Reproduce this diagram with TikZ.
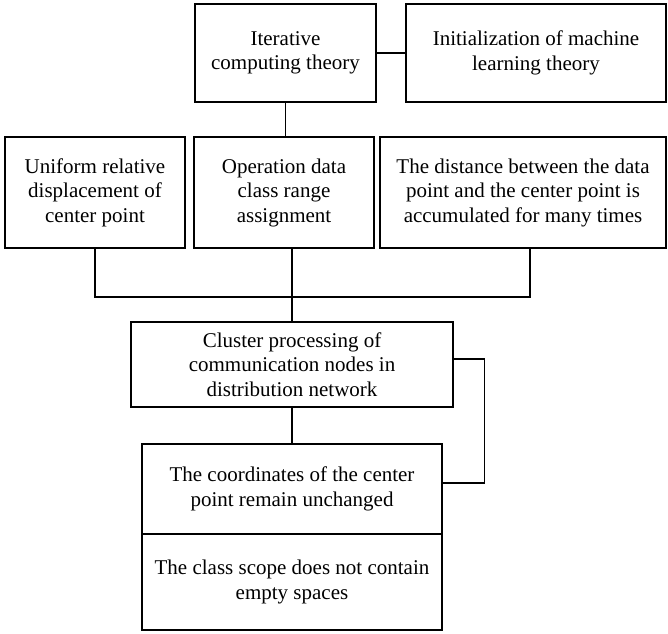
\documentclass[tikz,border=0pt]{standalone}
\usepackage{fontspec}
\setmainfont{Liberation Serif}
\usetikzlibrary{calc}
\tikzset{
  box/.style={draw, line width=1.4pt, rectangle, align=center, inner sep=2pt,
    font=\fontsize{21}{24.5}\selectfont},
  link/.style={line width=1.4pt}
}
\begin{document}
\begin{tikzpicture}[x=1pt,y=-1pt]
\useasboundingbox (0,0) rectangle (668,633);

% top row
\node[box, minimum width=181pt, minimum height=98pt] (iter) at (285.5,53)
  {Iterative\\computing theory};
\node[box, minimum width=260pt, minimum height=98pt] (init) at (536,53)
  {Initialization of machine\\learning theory};

% second row
\node[box, minimum width=180pt, minimum height=111pt] (disp) at (95,192.5)
  {Uniform relative\\displacement of\\center point};
\node[box, minimum width=180pt, minimum height=111pt] (oper) at (284,192.5)
  {Operation data\\class range\\assignment};
\node[box, minimum width=286pt, minimum height=111pt] (dist) at (523,192.5)
  {The distance between the data\\point and the center point is\\accumulated for many times};

% cluster processing
\node[box, minimum width=322pt, minimum height=85pt] (clus) at (292,364.5)
  {Cluster processing of\\communication nodes in\\distribution network};

% two-part result box
\node[box, minimum width=300pt, minimum height=90pt] (coord) at (292,489)
  {The coordinates of the center\\point remain unchanged};
\node[box, minimum width=300pt, minimum height=96pt] (scope) at (292,582)
  {The class scope does not contain\\empty spaces};

% connectors
\coordinate (bus) at (292,297);
\draw[link] (iter) -- (init);
\draw[link] (iter.south) -- (iter.south |- oper.north);
\draw[link] (disp.south) |- (bus);
\draw[link] ([xshift=7pt]dist.south) |- (bus);
\draw[link] (bus |- oper.south) -- (clus.north);
\draw[link] (clus.south) -- (coord.north);
\draw[link] ([yshift=5.5pt]clus.east) -- ++(31,0) |- ([yshift=6pt]coord.east);
\end{tikzpicture}
\end{document}
